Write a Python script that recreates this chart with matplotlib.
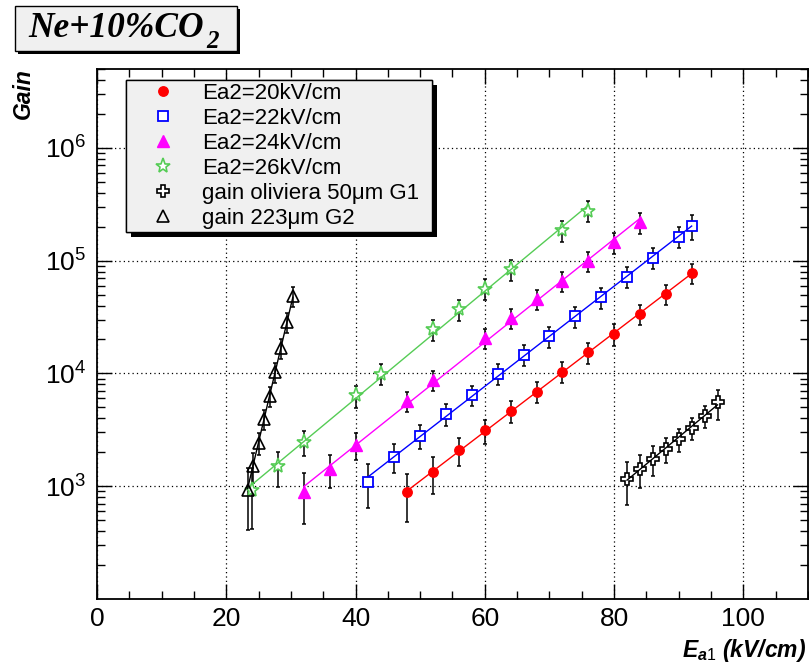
import matplotlib
matplotlib.use("Agg")
import matplotlib.pyplot as plt
import matplotlib.patheffects as pe
from matplotlib.lines import Line2D
from matplotlib.patches import Rectangle
from matplotlib.ticker import MultipleLocator, LogLocator, NullFormatter
import numpy as np

plt.rcParams['font.family'] = ['Liberation Sans', 'DejaVu Sans']
plt.rcParams['mathtext.fontset'] = 'custom'
plt.rcParams['mathtext.rm'] = 'Liberation Sans'
plt.rcParams['mathtext.it'] = 'Liberation Sans:italic:bold'
plt.rcParams['mathtext.bf'] = 'Liberation Sans:bold'

# Ea2 = 20 kV/cm
x_20 = [48, 52, 56, 60, 64, 68, 72, 76, 80, 84, 88, 92]
gain_20 = [880, 1340, 2080, 3130, 4680, 6890, 10350, 15460, 22440, 33700, 50700, 77400]
err_20 = [45, 36, 28, 24, 22, 21, 21, 21, 22, 21, 21, 20]   # % relative

# Ea2 = 22 kV/cm
x_22 = [42, 46, 50, 54, 58, 62, 66, 70, 74, 78, 82, 86, 90, 92]
gain_22 = [1100, 1830, 2800, 4350, 6450, 9950, 14700, 21300, 32000, 47500, 72000, 106000, 163000, 204000]
err_22 = [42, 29, 24, 22, 21, 21, 21, 21, 21, 21, 21, 21, 21, 25]

# Ea2 = 24 kV/cm
x_24 = [32, 36, 40, 48, 52, 60, 64, 68, 72, 76, 80, 84]
gain_24 = [890, 1430, 2320, 5710, 8790, 20700, 30800, 45600, 66500, 99000, 146000, 220000]
err_24 = [48, 33, 27, 21, 20, 20, 20, 20, 20, 20, 21, 21]

# Ea2 = 26 kV/cm
x_26 = [24, 28, 32, 40, 44, 52, 56, 60, 64, 72, 76]
gain_26 = [935, 1500, 2470, 6380, 9930, 24600, 37200, 56500, 84100, 185000, 277000]
err_26 = [55, 35, 25, 22, 21, 21, 21, 21, 21, 21, 21]

# gain oliviera 50um G1
x_g1 = [82, 84, 86, 88, 90, 92, 94, 96]
gain_g1 = [1160, 1430, 1750, 2140, 2630, 3300, 4220, 5530]
err_g1 = [41, 32, 29, 25, 23, 22, 23, 30]

# gain 223um G2
x_g2 = [23.3, 24.1, 25.0, 25.8, 26.7, 27.6, 28.5, 29.4, 30.3]
gain_g2 = [935, 1520, 2440, 3970, 6350, 10260, 16900, 28400, 48700]
err_g2 = [56, 30, 22, 20, 20, 20, 20, 20, 20]

labels = ['Ea2=20kV/cm', 'Ea2=22kV/cm', 'Ea2=24kV/cm', 'Ea2=26kV/cm',
          'gain oliviera 50\u03bcm G1', 'gain 223\u03bcm G2']

green = '#55cc55'
series = [
    (x_20, gain_20, err_20, dict(marker='o', ms=6.8, mfc='red', mec='red', mew=1.0), 'red'),
    (x_22, gain_22, err_22, dict(marker='s', ms=6.5, mfc='white', mec='blue', mew=1.3), 'blue'),
    (x_24, gain_24, err_24, dict(marker='^', ms=8.5, mfc='magenta', mec='magenta', mew=1.0), 'magenta'),
    (x_26, gain_26, err_26, dict(marker='*', ms=11, mfc='white', mec=green, mew=1.2), green),
    (x_g1, gain_g1, err_g1, dict(marker='P', ms=9, mfc='white', mec='black', mew=1.2), 'black'),
    (x_g2, gain_g2, err_g2, dict(marker='^', ms=9, mfc='none', mec='black', mew=1.2), 'black'),
]

W, H = 809, 666
fig = plt.figure(figsize=(W / 100, H / 100), dpi=100)
ax = fig.add_axes([97 / W, 1 - 599 / H, (808 - 97) / W, (599 - 69) / H])

for xs, ys, errs, mstyle, col in series:
    xs = np.array(xs, dtype=float)
    ys = np.array(ys, dtype=float)
    yerr = ys * np.array(errs) / 100.0
    ax.errorbar(xs, ys, yerr=yerr, fmt='none', ecolor='black', elinewidth=1.1,
                capsize=1.6, capthick=1.1, zorder=2)
    ax.plot(xs, ys, linestyle='none', zorder=3, **mstyle)
    # exponential fit, drawn over the measured range
    coef = np.polyfit(xs, np.log10(ys), 1)
    xx = np.array([xs.min(), xs.max()])
    ax.plot(xx, 10 ** np.polyval(coef, xx), color=col, lw=1.0, zorder=4)

ax.set_xlim(0, 110)
ax.set_yscale('log')
ax.set_ylim(100, 5e6)
ax.xaxis.set_major_locator(MultipleLocator(20))
ax.xaxis.set_minor_locator(MultipleLocator(5))
ax.set_yticks([1e3, 1e4, 1e5, 1e6])
ax.yaxis.set_minor_locator(LogLocator(base=10, subs=np.arange(2, 10)))
ax.yaxis.set_minor_formatter(NullFormatter())

ax.grid(True, which='major', color='black', linestyle=(0, (1, 2.5)), linewidth=0.9)
ax.tick_params(which='both', direction='in', top=True, right=True, width=1.0)
ax.tick_params(which='major', length=11)
ax.tick_params(which='minor', length=5.5)
ax.tick_params(axis='x', labelsize=19, pad=6)
ax.tick_params(axis='y', labelsize=19, pad=8)
for sp in ax.spines.values():
    sp.set_linewidth(1.3)

# legend
handles = [Line2D([], [], linestyle='none', **s[3]) for s in series]
leg = ax.legend(handles, labels, loc='upper left',
                bbox_to_anchor=(126 / W, 1 - 80 / H, 306 / W, 0),
                bbox_transform=fig.transFigure, mode='expand', borderaxespad=0,
                fontsize=16, borderpad=0.13, labelspacing=0.18, handlelength=3.07,
                handletextpad=0.22, fancybox=False, framealpha=1)
frame = leg.get_frame()
frame.set_facecolor('#f0f0f0')
frame.set_edgecolor('black')
frame.set_linewidth(1.0)
frame.set_path_effects([pe.withSimplePatchShadow(offset=(3.4, -3.4), shadow_rgbFace='black', alpha=1),
                        pe.Normal()])

# title box
fig.patches.append(Rectangle((18 / W, 1 - 54 / H), 222 / W, 45 / H, transform=fig.transFigure,
                             facecolor='black', edgecolor='none', zorder=1))
fig.patches.append(Rectangle((15 / W, 1 - 51 / H), 222 / W, 45 / H, transform=fig.transFigure,
                             facecolor='#f0f0f0', edgecolor='black', linewidth=1.0, zorder=2))
t_main = fig.text(28 / W, 1 - 37 / H, 'Ne+10%CO', family='Liberation Serif', weight='bold',
                  style='italic', fontsize=25.5, va='baseline', ha='left', zorder=3)
fig.canvas.draw()
bb = t_main.get_window_extent()
fig.text((bb.x1 + 3) / W, 1 - 47.5 / H, '2', family='Liberation Serif', weight='bold',
         style='italic', fontsize=18, va='baseline', ha='left', zorder=3)

# axis titles
fig.text(23 / W, 1 - 68 / H, 'Gain', rotation=90, ha='center', va='top',
         fontsize=16.5, weight='bold', style='italic')
fig.text(806 / W, 1 - 657 / H, r'$\mathit{E_{a1}}$ (kV/cm)', ha='right', va='baseline',
         fontsize=16.5, weight='bold', style='italic')

fig.savefig('out.png', dpi=100)
